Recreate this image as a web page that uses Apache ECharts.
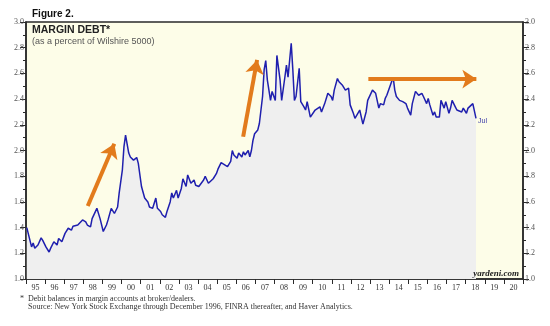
<!DOCTYPE html>
<html>
<head>
<meta charset="utf-8">
<script src="https://cdn.jsdelivr.net/npm/echarts@6/dist/echarts.min.js"></script>
<style>
  html, body { margin: 0; padding: 0; background: #ffffff; }
  #chart { width: 550px; height: 326px; }
</style>
</head>
<body>
<div id="chart"></div>
<script>
// Margin debt as a percent of the Wilshire 5000, monthly readings
const dates = [
  '1995-01','1995-04','1995-05','1995-06','1995-08','1995-10','1995-11',
  '1996-01','1996-03','1996-04','1996-06','1996-08','1996-09','1996-11',
  '1997-01','1997-02','1997-03','1997-05','1997-06','1997-07','1997-09','1997-10','1997-12',
  '1998-02','1998-03','1998-05','1998-06','1998-09','1998-11',
  '1999-01','1999-03','1999-04','1999-06','1999-08','1999-10','1999-11',
  '2000-01','2000-02','2000-03','2000-05','2000-06','2000-08','2000-10','2000-11',
  '2001-01','2001-03','2001-05','2001-06','2001-08','2001-10','2001-11',
  '2002-01','2002-02','2002-04','2002-05','2002-07','2002-08','2002-09','2002-11','2002-12',
  '2003-02','2003-03','2003-05','2003-06','2003-08','2003-10','2003-11',
  '2004-01','2004-02','2004-04','2004-05','2004-07','2004-08','2004-10','2004-12',
  '2005-01','2005-03','2005-04','2005-05','2005-07','2005-09','2005-10','2005-11',
  '2006-01','2006-02','2006-04','2006-05','2006-06','2006-08','2006-09','2006-10','2006-11','2006-12',
  '2007-01','2007-02','2007-03','2007-05','2007-06','2007-07','2007-08','2007-10','2007-11',
  '2008-01','2008-02','2008-04','2008-05','2008-07','2008-08','2008-09','2008-11','2008-12',
  '2009-01','2009-02','2009-04','2009-05','2009-07','2009-08','2009-09','2009-11','2009-12',
  '2010-02','2010-03','2010-05','2010-06','2010-08','2010-09','2010-10','2010-12',
  '2011-01','2011-02','2011-04','2011-05','2011-07','2011-08','2011-09','2011-11','2011-12',
  '2012-02','2012-03','2012-04','2012-06','2012-07','2012-08','2012-10','2012-11',
  '2013-02','2013-03','2013-04','2013-06','2013-07','2013-09','2013-10','2013-11',
  '2014-01','2014-03','2014-04','2014-05','2014-07','2014-08','2014-09','2014-11','2014-12',
  '2015-02','2015-03','2015-05','2015-06','2015-07','2015-09','2015-10','2015-12',
  '2016-01','2016-02','2016-04','2016-05','2016-06','2016-08','2016-09','2016-11','2016-12',
  '2017-02','2017-03','2017-04','2017-06','2017-07','2017-08','2017-10','2017-11',
  '2018-01','2018-02','2018-03','2018-05','2018-06','2018-07'
];
const marginDebt = [
  1.40,1.25,1.28,1.24,1.265,1.32,1.30,
  1.25,1.21,1.24,1.29,1.265,1.315,1.29,
  1.355,1.37,1.395,1.38,1.41,1.395,1.42,1.435,1.46,
  1.445,1.42,1.405,1.47,1.55,1.47,
  1.37,1.42,1.46,1.55,1.51,1.56,1.67,
  1.85,2.03,2.12,1.98,1.95,1.925,1.945,1.90,
  1.72,1.63,1.60,1.56,1.55,1.63,1.55,
  1.525,1.50,1.48,1.525,1.60,1.67,1.63,1.69,1.63,
  1.705,1.78,1.72,1.81,1.745,1.77,1.73,
  1.72,1.725,1.77,1.80,1.745,1.76,1.78,1.82,
  1.855,1.905,1.90,1.89,1.875,1.915,2.00,1.965,
  1.94,1.98,1.95,1.99,1.965,2.00,1.95,2.00,2.08,2.13,
  2.145,2.16,2.21,2.42,2.63,2.70,2.55,2.39,2.46,
  2.39,2.74,2.55,2.39,2.57,2.665,2.57,2.835,2.63,
  2.39,2.42,2.64,2.38,2.34,2.315,2.38,2.26,2.275,
  2.315,2.315,2.34,2.30,2.365,2.38,2.445,2.42,
  2.39,2.47,2.56,2.535,2.51,2.52,2.47,2.485,2.355,
  2.29,2.25,2.26,2.315,2.26,2.205,2.30,2.39,
  2.47,2.46,2.445,2.33,2.365,2.355,2.405,2.43,
  2.50,2.57,2.47,2.42,2.39,2.405,2.38,2.365,2.33,
  2.275,2.365,2.46,2.445,2.43,2.445,2.42,2.365,
  2.405,2.355,2.275,2.30,2.26,2.26,2.39,2.33,2.38,
  2.29,2.33,2.39,2.34,2.315,2.33,2.30,2.33,
  2.29,2.33,2.315,2.365,2.365,2.25
];
// Trend arrows: [fromYear, fromValue, toYear, toValue]
const trendArrows = [
  [1998.23, 1.568, 1999.62, 2.052],
  [2006.36, 2.107, 2007.09, 2.705],
  [2012.91, 2.556, 2018.56, 2.556]
];
const yearStart = 1995;
const yearEnd = 2021;
const yTicks = { min: 1.0, max: 3.0, step: 0.2 };
const lastMonthLabel = 'Jul';

function toYear(s) {
  const [y, m] = s.split('-').map(Number);
  return y + (m - 0.5) / 12;
}
const points = dates.map((d, i) => [toYear(d), marginDebt[i]]);

const serif = '"Liberation Serif", "DejaVu Serif", serif';
const sans = '"Liberation Sans", Arial, sans-serif';

const yAxisBase = (pos) => ({
  type: 'value',
  position: pos,
  min: yTicks.min,
  max: yTicks.max,
  interval: yTicks.step,
  axisLine: { show: true, lineStyle: { color: '#2a2a2a', width: 1.5 } },
  axisTick: { show: true, length: 6, lineStyle: { color: '#2a2a2a', width: 1 } },
  minorTick: { show: true, splitNumber: 2, length: 3, lineStyle: { color: '#2a2a2a', width: 1 } },
  splitLine: { show: false },
  axisLabel: {
    margin: 2,
    fontFamily: serif,
    fontSize: 8,
    color: '#555',
    formatter: (v) => v.toFixed(1)
  }
});

const chart = echarts.init(document.getElementById('chart'), null, { renderer: 'canvas' });
chart.setOption({
  animation: false,
  backgroundColor: '#ffffff',
  grid: {
    left: 26, right: 27, top: 22, bottom: 47,
    show: true,
    backgroundColor: '#fdfde8',
    borderColor: '#2a2a2a',
    borderWidth: 1.5
  },
  xAxis: {
    type: 'value',
    min: yearStart,
    max: yearEnd,
    interval: 1,
    axisLine: { show: true, lineStyle: { color: '#2a2a2a', width: 1.5 } },
    axisTick: { show: true, length: 5, lineStyle: { color: '#2a2a2a', width: 1 } },
    splitLine: { show: false },
    axisLabel: {
      margin: 5,
      fontFamily: serif,
      fontSize: 8,
      color: '#333',
      showMaxLabel: true,
      padding: [0, 0, 0, 19],
      formatter: (v) => (v >= yearEnd ? '' : String(v % 100).padStart(2, '0'))
    }
  },
  yAxis: [yAxisBase('left'), yAxisBase('right')],
  series: [{
    type: 'line',
    data: points,
    showSymbol: false,
    symbol: 'none',
    lineStyle: { color: '#1f1fae', width: 1.5 },
    areaStyle: { color: '#efefef', opacity: 1, origin: 'start' },
    z: 3,
    endLabel: {
      show: true,
      formatter: lastMonthLabel,
      fontFamily: sans,
      fontSize: 7,
      color: '#3a3aa8',
      distance: 2,
      offset: [0, 3]
    },
    markLine: {
      silent: true,
      symbol: ['none', 'arrow'],
      symbolSize: 14,
      label: { show: false },
      lineStyle: { color: '#e27b1c', width: 4, type: 'solid' },
      emphasis: { disabled: true },
      data: trendArrows.map(a => [{ coord: [a[0], a[1]] }, { coord: [a[2], a[3]] }])
    }
  }],
  graphic: [
    { type: 'text', z: 100, left: 32, top: 9, style: { text: 'Figure 2.', font: 'bold 10px ' + sans, fill: '#111' } },
    { type: 'text', z: 100, left: 32, top: 25, style: { text: 'MARGIN DEBT*', font: 'bold 10.5px ' + sans, fill: '#222' } },
    { type: 'text', z: 100, left: 32, top: 37, style: { text: '(as a percent of Wilshire 5000)', font: '9px ' + sans, fill: '#555' } },
    { type: 'text', z: 100, right: 31, top: 269, style: { text: 'yardeni.com', font: 'italic bold 9px ' + serif, fill: '#222' } },
    { type: 'text', z: 100, left: 20, top: 295, style: { text: '*', font: '8px ' + serif, fill: '#333' } },
    { type: 'text', z: 100, left: 28, top: 295, style: { text: 'Debit balances in margin accounts at broker/dealers.', font: '8px ' + serif, fill: '#333' } },
    { type: 'text', z: 100, left: 28, top: 303, style: { text: 'Source: New York Stock Exchange through December 1996, FINRA thereafter, and Haver Analytics.', font: '8px ' + serif, fill: '#333' } }
  ]
});
</script>
</body>
</html>
